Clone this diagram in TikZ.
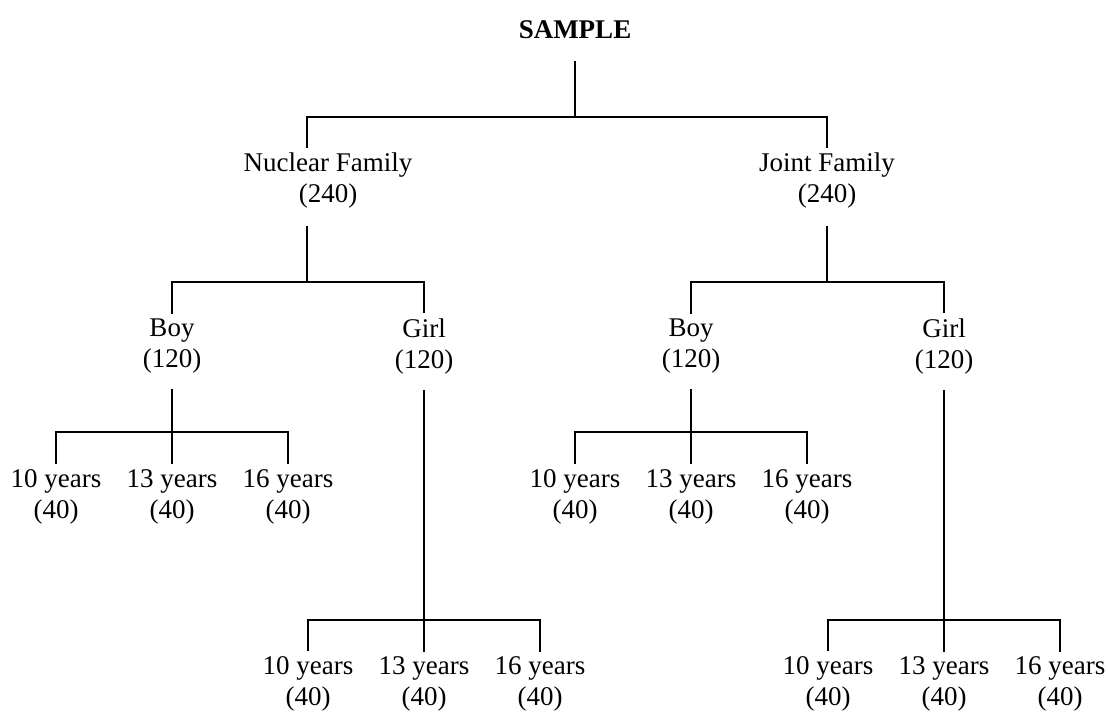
\documentclass[tikz,border=0pt]{standalone}
\usepackage{fontspec}
\setmainfont{Liberation Serif}

\tikzset{
  every node/.style={font=\fontsize{27}{31}\selectfont, align=center, inner sep=5pt},
  title/.style={font=\fontsize{27}{31}\selectfont\bfseries},
  tree/.style={line width=1.2pt},
}

\begin{document}
\begin{tikzpicture}[x=1pt, y=-1pt]
		\useasboundingbox (0,0) rectangle (1108,713);
		\node[title] (sample) at (575,30) {SAMPLE};
		\node (nuclear) at (328,181) {Nuclear Family\\(240)};
		\node (joint) at (827,181) {Joint Family\\(240)};
		\node (nboy) at (172,346) {Boy\\(120)};
		\node (ngirl) at (424,346) {Girl\\(120)};
		\node (jboy) at (691,346) {Boy\\(120)};
		\node (jgirl) at (944,346) {Girl\\(120)};
		\coordinate (top) at (575,117);
		\coordinate (nfork) at (307,282);
		\coordinate (jfork) at (827,282);
		\draw[tree] ([yshift=-17pt]sample.south) -- (top);
		\draw[tree] ([xshift=-21pt]nuclear.north) |- (top) -| (joint.north);
		\draw[tree] ([xshift=-21pt, yshift=-12pt]nuclear.south) -- (nfork);
		\draw[tree] (nboy.north) |- (nfork) -| (ngirl.north);
		\draw[tree] ([yshift=-12pt]joint.south) -- (jfork);
		\draw[tree] (jboy.north) |- (jfork) -| (jgirl.north);
		% age groups under each boy / girl node
		\foreach \g/\x/\y/\f in {nb/172/497/432, jb/691/497/432,
			ng/424/684/620, jg/944/684/620} {
			\node (\g10) at (\x-116,\y) {10 years\\(40)};
			\node (\g13) at (\x,\y) {13 years\\(40)};
			\node (\g16) at (\x+116,\y) {16 years\\(40)};
			\coordinate (\g fork) at (\x,\f);
			\draw[tree] (\g10.north) |- (\g fork) -| (\g16.north);
			\draw[tree] (\g fork) -- (\g13.north);
		}
		\draw[tree] ([yshift=-11pt]nboy.south) -- (nbfork);
		\draw[tree] ([yshift=-11pt]jboy.south) -- (jbfork);
		\draw[tree] ([yshift=-11pt]ngirl.south) -- (ngfork);
		\draw[tree] ([yshift=-11pt]jgirl.south) -- (jgfork);
	\end{tikzpicture}
\end{document}
